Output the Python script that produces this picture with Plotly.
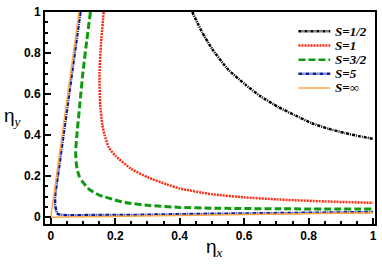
import plotly.graph_objects as go

# S = 1/2
x_half = [0.439, 0.47, 0.501, 0.55, 0.604, 0.65, 0.707, 0.76, 0.81, 0.86, 0.913, 0.96, 1.0]
y_half = [1.0, 0.90, 0.819, 0.72, 0.646, 0.59, 0.536, 0.495, 0.458, 0.432, 0.410, 0.394, 0.382]

# S = 1
x_one = [0.164, 0.156, 0.151, 0.153, 0.160, 0.167, 0.18, 0.20, 0.25, 0.30, 0.36, 0.40, 0.50, 0.60, 0.70, 0.85, 1.0]
y_one = [1.0, 0.85, 0.70, 0.55, 0.45, 0.40, 0.34, 0.30, 0.235, 0.195, 0.16, 0.14, 0.112, 0.097, 0.087, 0.077, 0.070]

# S = 3/2
x_3h = [0.123, 0.112, 0.100, 0.090, 0.081, 0.077, 0.080, 0.088, 0.100, 0.120, 0.150, 0.190, 0.230, 0.300, 0.400, 0.500, 0.700, 1.0]
y_3h = [1.0, 0.866, 0.71, 0.55, 0.40, 0.32, 0.25, 0.20, 0.17, 0.135, 0.108, 0.088, 0.072, 0.058, 0.048, 0.044, 0.041, 0.040]

# S = 5
x_five = [0.092, 0.070, 0.048, 0.026, 0.013, 0.0135, 0.015, 0.018, 0.023, 0.030, 0.05, 0.10, 0.25, 0.46, 0.70, 1.0]
y_five = [1.0, 0.75, 0.50, 0.25, 0.10, 0.06, 0.035, 0.022, 0.015, 0.012, 0.010, 0.010, 0.011, 0.016, 0.020, 0.025]

# S = infinity
x_inf = [0.0875, 0.0, 1.0]
y_inf = [1.0, 0.0, 0.022]

series = [
    ("S=1/2", x_half, y_half, "#000000", "3px,1px,1px,1px", 2.5, "spline"),
    ("S=1", x_one, y_one, "#ff2a10", "2px,1px", 2.5, "spline"),
    ("S=3/2", x_3h, y_3h, "#109a10", "7px,3px", 3, "spline"),
    ("S=5", x_five, y_five, "#0c1a9c", "4px,1px,1px,1px", 2.5, "linear"),
    ("S=∞", x_inf, y_inf, "#ffa640", "solid", 1.5, "linear"),
]

W, H = 382, 269
ML, MR, MT, MB = 45, 5, 5, 45
PW, PH = W - ML - MR, H - MT - MB


def px(p):
    return (p - ML) / PW


def py(q):
    return (H - MB - q) / PH


fig = go.Figure()
shapes = []
annotations = []
for i, (name, xs, ys, col, dash, w, shp) in enumerate(series):
    line = dict(color=col, dash=dash, width=w, shape=shp)
    if shp == "spline":
        line["smoothing"] = 0.5
    fig.add_trace(go.Scatter(x=xs, y=ys, mode="lines", name=name, line=line, showlegend=False))
    # legend entry (top right, tight spacing)
    yrow = 25.0 + i * 14.6
    shapes.append(dict(type="line", xref="paper", yref="paper",
                       x0=px(300), x1=px(332), y0=py(yrow), y1=py(yrow),
                       line=dict(color=col, dash=dash, width=min(w, 2.5))))
    annotations.append(dict(text="<b><i>%s</i></b>" % name, xref="paper", yref="paper",
                            x=px(336), y=py(yrow), xanchor="left", yanchor="middle",
                            showarrow=False, borderpad=0,
                            font=dict(family="Liberation Serif", size=13, color="black")))

annotations += [
    dict(text="η<sub><span style='font-family:Liberation Serif'><i>x</i></span></sub>",
         xref="paper", yref="paper", x=px(216), y=py(249),
         xanchor="center", yanchor="middle", showarrow=False,
         font=dict(family="Liberation Sans", size=19, color="black")),
    dict(text="η<sub><span style='font-family:Liberation Serif'><i>y</i></span></sub>",
         xref="paper", yref="paper", x=px(12), y=py(113),
         xanchor="center", yanchor="middle", showarrow=False,
         font=dict(family="Liberation Sans", size=19, color="black")),
]

tickfont = dict(family="Liberation Sans", size=12, color="black", weight="bold")
axis_common = dict(showline=True, linecolor="black", linewidth=2, mirror=True,
                   ticks="inside", ticklen=6, tickwidth=1.5, tickcolor="black",
                   showgrid=False, zeroline=False, tickfont=tickfont)

fig.update_layout(
    width=W, height=H,
    margin=dict(l=ML, r=MR, t=MT, b=MB),
    plot_bgcolor="white", paper_bgcolor="white",
    xaxis=dict(range=[-0.018, 1.006], dtick=0.2, tick0=0,
               minor=dict(dtick=0.05, ticks="inside", ticklen=3, tickcolor="black"),
               **axis_common),
    yaxis=dict(range=[-0.033, 1.0], dtick=0.2, tick0=0,
               minor=dict(dtick=0.05, ticks="inside", ticklen=3, tickcolor="black"),
               **axis_common),
    showlegend=False,
    shapes=shapes,
    annotations=annotations,
)

fig.write_html("out.html", config={"displayModeBar": False},
               post_script="document.body.style.margin='0';document.body.style.overflow='hidden';")
